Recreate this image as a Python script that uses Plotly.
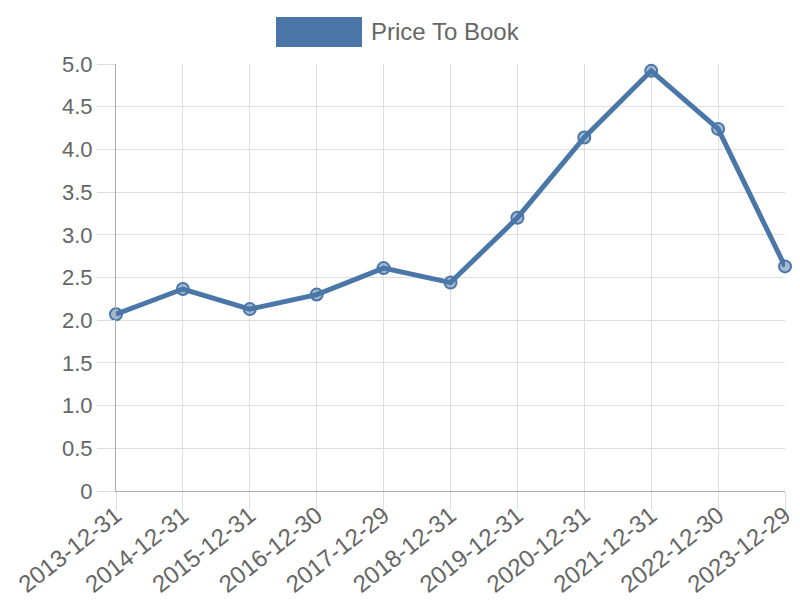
import plotly.graph_objects as go

dates = ["2013-12-31", "2014-12-31", "2015-12-31", "2016-12-30", "2017-12-29",
         "2018-12-31", "2019-12-31", "2020-12-31", "2021-12-31", "2022-12-30", "2023-12-29"]
price_to_book = [2.07, 2.365, 2.13, 2.30, 2.61, 2.44, 3.20, 4.14, 4.92, 4.24, 2.63]
series_name = "Price To Book"
y_ticks = [0, 0.5, 1.0, 1.5, 2.0, 2.5, 3.0, 3.5, 4.0, 4.5, 5.0]
y_tick_labels = ["0", "0.5", "1.0", "1.5", "2.0", "2.5", "3.0", "3.5", "4.0", "4.5", "5.0"]

color = "#4a76a8"
family = "Liberation Sans, Arial, sans-serif"
yfont = dict(family=family, size=22, color="#666666")
xfont = dict(family=family, size=24, color="#666666")

L, R, T, B = 116, 785, 64, 491
W, H = R - L, B - T

fig = go.Figure()
fig.add_trace(go.Scatter(
    x=dates, y=price_to_book, mode="lines+markers", name=series_name,
    line=dict(color=color, width=5),
    marker=dict(size=12, color="rgba(74,118,168,0.5)", line=dict(color=color, width=2)),
    cliponaxis=False, showlegend=False,
))

fig.add_shape(type="rect", xref="paper", yref="paper",
              x0=(276 - L) / W, x1=(362 - L) / W,
              y0=(B - 47) / H, y1=(B - 17) / H,
              fillcolor=color, line=dict(width=0))
fig.add_annotation(xref="paper", yref="paper", x=(369 - L) / W, y=(B - 32) / H,
                   text=series_name, showarrow=False, xanchor="left", yanchor="middle",
                   font=dict(family=family, size=24, color="#666666"))

fig.update_layout(
    width=800, height=600,
    margin=dict(l=L, r=800 - R, t=T, b=600 - B, autoexpand=False),
    paper_bgcolor="white", plot_bgcolor="white",
    font=yfont, showlegend=False,
)
fig.update_xaxes(
    type="category", range=[0, len(dates) - 1], automargin=False,
    showgrid=True, gridcolor="#dddddd", gridwidth=1,
    showline=True, linecolor="#aaaaaa", linewidth=1,
    ticks="outside", ticklen=18, tickcolor="#dddddd",
    tickangle=-38, tickfont=xfont, zeroline=False, ticklabelstandoff=-18,
)
fig.update_yaxes(
    range=[0, 5.0], tickvals=y_ticks, ticktext=y_tick_labels, automargin=False,
    showgrid=True, gridcolor="#dddddd", gridwidth=1,
    showline=True, linecolor="#aaaaaa", linewidth=1,
    ticks="outside", ticklen=18, tickcolor="#dddddd",
    tickfont=yfont, zeroline=False,
)

fig.write_html("out.html", config={"displayModeBar": False},
               post_script="document.body.style.margin='0';document.body.style.padding='0';")
